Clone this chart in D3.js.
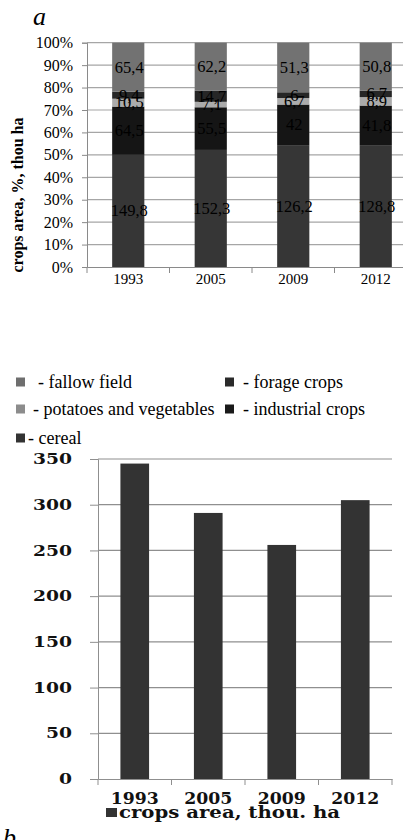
<!DOCTYPE html>
<html><head><meta charset="utf-8">
<script src="https://cdn.jsdelivr.net/npm/d3@7"></script>
<style>
html,body{margin:0;padding:0;background:#fff;}
svg{display:block;}
.serif{font-family:"Liberation Serif","Times New Roman",Tinos,"DejaVu Serif",serif !important;}
.wide{font-family:"DejaVu Serif","Liberation Serif",serif !important;font-weight:bold;}
</style></head>
<body>
<svg id="c" width="403" height="840"></svg>
<script>
// ---- data ----
const years = ["1993", "2005", "2009", "2012"];
const seriesNames = ["cereal", "industrial crops", "potatoes and vegetables", "forage crops", "fallow field"];
const cereal = [149.8, 152.3, 126.2, 128.8];
const industrial = [64.5, 55.5, 42, 41.8];
const potatoes = [10.5, 7.1, 6.7, 8.9];
const forage = [9.4, 14.7, 6, 6.7];
const fallow = [65.4, 62.2, 51.3, 50.8];
const pctTicks = [0, 0.1, 0.2, 0.3, 0.4, 0.5, 0.6, 0.7, 0.8, 0.9, 1];
const cropsArea = [345, 291, 256, 305];
const areaTicks = [0, 50, 100, 150, 200, 250, 300, 350];

const colors = {
  "cereal": "#363636",
  "industrial crops": "#151515",
  "potatoes and vegetables": "#ababab",
  "forage crops": "#262626",
  "fallow field": "#727272"
};
const legendColors = {
  "fallow field": "#6e6e6e",
  "forage crops": "#2a2a2a",
  "potatoes and vegetables": "#8c8c8c",
  "industrial crops": "#1a1a1a",
  "cereal": "#333333"
};

const svg = d3.select("#c");

// ---- chart a ----
const rows = years.map((y, i) => ({
  year: y,
  "cereal": cereal[i],
  "industrial crops": industrial[i],
  "potatoes and vegetables": potatoes[i],
  "forage crops": forage[i],
  "fallow field": fallow[i]
}));
const stacked = d3.stack().keys(seriesNames).offset(d3.stackOffsetExpand)(rows);

const xa = d3.scaleBand().domain(years).range([87, 417]).padding(0);
const ya = d3.scaleLinear().domain([0, 1]).range([267, 42.7]);
const barWa = xa.bandwidth() * 0.39;

const ga = svg.append("g");
ga.selectAll("line.grid").data(pctTicks.filter(d => d > 0)).join("line")
  .attr("x1", 87).attr("x2", 417)
  .attr("y1", d => ya(d)).attr("y2", d => ya(d))
  .attr("stroke", "#a6a6a6").attr("stroke-width", 1.2);

const axA = d3.axisLeft(ya).tickValues(pctTicks).tickFormat(d3.format(".0%")).tickSize(5).tickPadding(9);
const gay = ga.append("g").attr("transform", "translate(87,0)").call(axA);
gay.select(".domain").attr("stroke", "#8a8a8a");
gay.selectAll(".tick line").attr("stroke", "#8a8a8a");
gay.selectAll("text").attr("class", "serif").attr("font-size", 16).attr("fill", "#000");

ga.selectAll("g.layer").data(stacked).join("g").attr("class", "layer")
  .attr("fill", d => colors[d.key])
  .selectAll("rect").data(d => d).join("rect")
  .attr("x", d => xa(d.data.year) + (xa.bandwidth() - barWa) / 2)
  .attr("width", barWa)
  .attr("y", d => ya(d[1]))
  .attr("height", d => ya(d[0]) - ya(d[1]));

stacked.forEach(layer => {
  ga.selectAll(null).data(layer).join("text")
    .attr("class", "serif")
    .attr("x", d => xa(d.data.year) + xa.bandwidth() / 2 + 1)
    .attr("y", d => (ya(d[0]) + ya(d[1])) / 2 + 5.5)
    .attr("text-anchor", "middle")
    .attr("font-size", 16.5)
    .attr("fill", "#000")
    .text(d => String(d.data[layer.key]).replace(".", ","));
});

const gax = ga.append("g").attr("transform", "translate(0,267)")
  .call(d3.axisBottom(xa).tickSize(0).tickPadding(6));
gax.select(".domain").attr("stroke", "#8a8a8a");
gax.selectAll("text").attr("class", "serif").attr("font-size", 15).attr("fill", "#000");
ga.selectAll("line.xt").data(years.concat(["end"])).join("line")
  .attr("x1", (d, i) => 87 + i * xa.step()).attr("x2", (d, i) => 87 + i * xa.step())
  .attr("y1", 267).attr("y2", 273).attr("stroke", "#8a8a8a");

svg.append("text").attr("class", "serif")
  .attr("transform", "translate(23,195) rotate(-90)")
  .attr("text-anchor", "middle")
  .attr("font-size", 16).attr("font-weight", "bold")
  .text("crops area, %, thou ha");

svg.append("text").attr("class", "serif").attr("x", 33).attr("y", 25)
  .attr("font-style", "italic").attr("font-size", 26)
  .text("a");

// ---- legend ----
const legendItems = [
  { key: "fallow field", x: 16, y: 382, tx: 38 },
  { key: "forage crops", x: 225, y: 382, tx: 243 },
  { key: "potatoes and vegetables", x: 16, y: 409, tx: 33 },
  { key: "industrial crops", x: 225, y: 409, tx: 243 },
  { key: "cereal", x: 16, y: 438, tx: 28 }
];
const lg = svg.append("g");
lg.selectAll("rect").data(legendItems).join("rect")
  .attr("x", d => d.x).attr("y", d => d.y - 4.5).attr("width", 9).attr("height", 9)
  .attr("fill", d => legendColors[d.key]);
lg.selectAll("text").data(legendItems).join("text")
  .attr("class", "serif")
  .attr("x", d => d.tx).attr("y", d => d.y + 5.5)
  .attr("font-size", 18)
  .text(d => "- " + d.key);

// ---- chart b ----
const xb = d3.scaleBand().domain(years).range([98, 392]).padding(0);
const yb = d3.scaleLinear().domain([0, 350]).range([779, 459]);
const barWb = xb.bandwidth() * 0.39;
const gb = svg.append("g");
gb.selectAll("line.grid").data(areaTicks.filter(d => d > 0)).join("line")
  .attr("x1", 98).attr("x2", 392)
  .attr("y1", d => yb(d)).attr("y2", d => yb(d))
  .attr("stroke", "#8f8f8f").attr("stroke-width", 1.2);
const gby = gb.append("g").attr("transform", "translate(98,0)")
  .call(d3.axisLeft(yb).tickValues(areaTicks).tickSize(8).tickPadding(18));
gby.select(".domain").attr("stroke", "#8f8f8f");
gby.selectAll(".tick line").attr("stroke", "#8f8f8f");
gby.selectAll("text").attr("class", "wide")
  .attr("font-size", 14.5).attr("fill", "#111")
  .attr("textLength", d => String(d).length * 13).attr("lengthAdjust", "spacingAndGlyphs");

gb.selectAll("rect").data(cropsArea).join("rect")
  .attr("x", (d, i) => xb(years[i]) + (xb.bandwidth() - barWb) / 2)
  .attr("width", barWb)
  .attr("y", d => yb(d))
  .attr("height", d => yb(0) - yb(d))
  .attr("fill", "#333333");

const gbx = gb.append("g").attr("transform", "translate(0,779)")
  .call(d3.axisBottom(xb).tickSize(0).tickPadding(14));
gbx.select(".domain").attr("stroke", "#8f8f8f");
gbx.selectAll("text").attr("class", "wide")
  .attr("font-size", 16).attr("fill", "#111")
  .attr("textLength", 48).attr("lengthAdjust", "spacingAndGlyphs");
gb.selectAll("line.xt").data(years.concat(["end"])).join("line")
  .attr("x1", (d, i) => 98 + i * xb.step()).attr("x2", (d, i) => 98 + i * xb.step())
  .attr("y1", 779).attr("y2", 785).attr("stroke", "#8f8f8f");

svg.append("rect").attr("x", 106).attr("y", 808).attr("width", 11).attr("height", 9).attr("fill", "#333");
svg.append("text").attr("class", "wide").attr("x", 119).attr("y", 818)
  .attr("font-size", 16).attr("fill", "#111")
  .attr("textLength", 221).attr("lengthAdjust", "spacingAndGlyphs")
  .text("crops area, thou. ha");

svg.append("text").attr("class", "serif").attr("x", 3).attr("y", 846)
  .attr("font-style", "italic").attr("font-size", 26)
  .text("b");
</script>
</body></html>
